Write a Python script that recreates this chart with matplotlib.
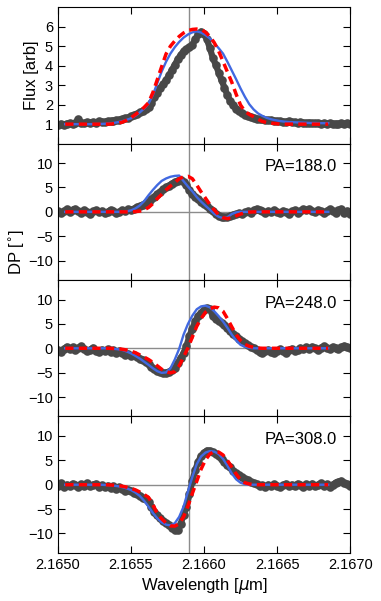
import numpy as np
import matplotlib.pyplot as plt
from matplotlib.ticker import FormatStrFormatter

plt.rcParams['font.family'] = ['Liberation Sans', 'DejaVu Sans']

# observed data grid (um) and model grid (um)
wl_obs = np.linspace(2.1650, 2.1670, 101)
wl_mod = np.linspace(2.16505, 2.16685, 61)
wl_line = 2.1659

flux_obs = [0.98, 1.02, 0.97, 1.03, 1.05, 1.00, 1.08, 1.25, 1.06, 1.04,
            1.09, 1.06, 1.11, 1.08, 1.15, 1.12, 1.10, 1.16, 1.14, 1.18,
            1.20, 1.22, 1.26, 1.30, 1.34, 1.40, 1.46, 1.52, 1.60, 1.68,
            1.76, 1.90, 2.08, 2.40, 2.60, 2.85, 3.05, 3.25, 3.50, 3.78,
            4.05, 4.32, 4.55, 4.75, 4.86, 4.95, 5.08, 5.35, 5.60, 5.75,
            5.65, 5.35, 4.90, 4.40, 4.05, 3.65, 3.25, 2.88, 2.48, 2.18,
            1.96, 1.80, 1.66, 1.55, 1.46, 1.40, 1.35, 1.31, 1.28, 1.25,
            1.24, 1.22, 1.20, 1.19, 1.17, 1.16, 1.15, 1.13, 1.12, 1.14,
            1.11, 1.10, 1.08, 1.09, 1.07, 1.06, 1.08, 1.05, 1.04, 1.06,
            1.03, 1.05, 1.02, 1.04, 1.01, 1.03, 1.00, 1.04, 1.02, 1.05,
            1.03]
flux_blue = [1.00, 1.00, 1.00, 1.00, 1.00, 1.00, 1.00, 1.01, 1.01, 1.02,
             1.04, 1.06, 1.10, 1.15, 1.22, 1.30, 1.43, 1.60, 1.80, 2.05,
             2.50, 3.10, 3.70, 4.20, 4.62, 4.95, 5.22, 5.44, 5.60, 5.71,
             5.76, 5.70, 5.57, 5.40, 5.16, 4.90, 4.62, 4.20, 3.75, 3.30,
             2.83, 2.40, 2.02, 1.75, 1.55, 1.42, 1.32, 1.25, 1.20, 1.16,
             1.13, 1.11, 1.10, 1.09, 1.08, 1.07, 1.06, 1.06, 1.05, 1.05,
             1.05]
flux_red = [1.00, 1.00, 1.00, 1.00, 1.00, 1.00, 1.00, 1.00, 1.00, 1.00,
            1.00, 1.02, 1.05, 1.10, 1.20, 1.33, 1.49, 1.67, 1.86, 2.10,
            2.62, 3.28, 3.95, 4.60, 5.00, 5.27, 5.50, 5.68, 5.80, 5.86,
            5.88, 5.86, 5.72, 5.50, 5.18, 4.75, 4.22, 3.68, 3.15, 2.53,
            1.98, 1.66, 1.50, 1.38, 1.25, 1.14, 1.08, 1.05, 1.03, 1.00,
            1.00, 1.00, 1.00, 1.00, 1.00, 1.00, 1.00, 1.00, 1.00, 1.00,
            1.00]

pa_labels = ['PA=188.0', 'PA=248.0', 'PA=308.0']

dp188_obs = [0.2, -0.3, 0.1, 0.5, 0.0, 0.4, 0.6, 0.2, -0.2, 0.3,
             0.0, -0.4, 0.1, 0.3, -0.1, 0.2, -0.3, 0.0, 0.4, 0.1,
             -0.2, 0.0, 0.3, 0.2, 0.5, 0.4, 0.6, 1.0, 1.1, 1.5,
             1.8, 2.1, 2.6, 3.1, 3.6, 4.1, 4.6, 5.0, 5.4, 5.8,
             6.1, 6.4, 6.6, 6.2, 5.5, 4.4, 3.7, 3.1, 2.6, 2.1,
             1.6, 1.1, 0.6, 0.1, -0.4, -0.8, -1.0, -1.1, -1.0, -0.8,
             -0.6, -0.5, -0.3, -0.4, -0.1, 0.1, -0.2, 0.3, 0.6, 0.4,
             0.1, -0.3, 0.2, -0.1, 0.3, 0.0, -0.3, 0.2, 0.0, -0.4,
             0.1, 0.3, -0.2, 0.2, 0.5, 0.3, 0.6, 0.2, -0.1, 0.4,
             0.1, -0.3, 0.2, 0.5, 0.1, -0.2, 0.3, 0.6, -0.3, 0.2,
             -0.4]
dp188_blue = [0.0, 0.0, 0.0, 0.0, 0.0, 0.0, 0.0, 0.0, 0.0, 0.0,
              0.0, 0.0, 0.0, 0.0, 0.1, 0.3, 0.7, 1.3, 2.2, 3.4,
              4.5, 5.5, 6.35, 6.85, 7.2, 7.38, 7.45, 6.3, 5.2, 4.2,
              3.05, 2.1, 1.25, 0.45, -0.4, -1.0, -1.3, -1.1, -0.45, -0.1,
              0.0, 0.0, 0.0, 0.0, 0.0, 0.0, 0.0, 0.0, 0.0, 0.0,
              0.0, 0.0, 0.0, 0.0, 0.0, 0.0, 0.0, 0.0, 0.0, 0.0,
              0.0]
dp188_red = [0.0, 0.0, 0.0, 0.0, 0.0, 0.0, 0.0, 0.0, 0.0, 0.0,
             0.0, 0.0, 0.0, 0.0, 0.0, 0.0, 0.05, 0.15, 0.4, 0.9,
             1.7, 2.7, 3.6, 4.5, 5.3, 6.0, 6.8, 7.2, 7.3, 6.8,
             5.5, 4.1, 2.8, 1.5, 0.4, -0.6, -1.2, -1.4, -1.2, -0.8,
             -0.45, -0.2, -0.05, 0.0, 0.0, 0.0, 0.0, 0.0, 0.0, 0.0,
             0.0, 0.0, 0.0, 0.0, 0.0, 0.0, 0.0, 0.0, 0.0, 0.0,
             0.0]

dp248_obs = [-0.3, -0.8, -0.2, 0.3, -0.1, 0.2, -0.4, 0.1, 0.4, -0.2,
             -0.6, -0.3, 0.1, -0.5, -0.8, -0.3, -0.6, -0.2, -0.7, -0.4,
             -0.9, -0.6, -1.0, -1.3, -1.1, -1.5, -1.4, -1.8, -2.1, -2.4,
             -2.8, -3.3, -3.8, -4.3, -4.6, -4.9, -5.0, -5.0, -4.8, -4.5,
             -4.0, -3.0, -2.0, -1.0, 0.5, 2.5, 4.0, 5.5, 6.6, 7.3,
             7.9, 8.3, 8.0, 6.6, 6.0, 5.7, 5.2, 4.7, 4.2, 3.6,
             3.0, 2.5, 2.0, 1.5, 1.0, 0.6, 0.3, 0.0, -0.4, -0.7,
             -0.9, -0.6, -0.3, -0.7, -1.0, -0.6, -0.2, -0.5, -0.9, -0.4,
             -0.1, -0.5, -0.3, 0.1, -0.2, 0.2, -0.1, 0.3, 0.0, -0.3,
             0.1, 0.4, 0.0, -0.2, 0.3, 0.1, -0.2, 0.2, 0.5, 0.3,
             0.0]
dp248_blue = [0.0, 0.0, 0.0, 0.0, 0.0, 0.0, 0.0, 0.0, 0.0, 0.0,
              -0.05, -0.1, -0.2, -0.35, -0.65, -1.05, -1.55, -2.1, -2.75, -3.4,
              -4.1, -4.7, -5.05, -4.95, -4.1, -2.3, -0.1, 2.8, 5.0, 6.7,
              8.0, 8.6, 8.75, 8.4, 7.6, 6.6, 5.5, 4.2, 2.8, 1.6,
              0.7, 0.3, 0.1, 0.0, 0.0, 0.0, 0.0, 0.0, 0.0, 0.0,
              0.0, 0.0, 0.0, 0.0, 0.0, 0.0, 0.0, 0.0, 0.0, 0.0,
              0.0]
dp248_red = [0.0, 0.0, 0.0, 0.0, 0.0, 0.0, 0.0, 0.0, 0.0, 0.0,
             0.0, -0.05, -0.1, -0.2, -0.35, -0.6, -0.9, -1.35, -1.8, -2.3,
             -2.9, -3.6, -4.3, -4.8, -5.05, -4.8, -3.6, -1.8, 0.1, 2.3,
             4.5, 6.1, 7.4, 8.1, 8.45, 8.3, 7.6, 6.1, 4.4, 2.8,
             1.6, 0.8, 0.4, 0.2, 0.05, 0.0, 0.0, 0.0, 0.0, 0.0,
             0.0, 0.0, 0.0, 0.0, 0.0, 0.0, 0.0, 0.0, 0.0, 0.0,
             0.0]

dp308_obs = [-0.2, 0.3, -0.5, 0.0, -0.3, 0.2, -0.1, -0.4, 0.1, -0.2,
             0.3, -0.3, 0.0, 0.2, -0.4, -0.1, -0.5, -0.2, -0.6, -0.3,
             -0.8, -0.5, -0.9, -1.2, -1.0, -1.3, -1.6, -1.9, -2.4, -2.7,
             -3.0, -3.6, -4.6, -5.6, -6.3, -6.9, -7.4, -7.8, -8.2, -8.8,
             -9.2, -9.3, -8.0, -6.2, -4.6, -2.0, 0.8, 3.0, 4.7, 5.9,
             6.6, 7.0, 7.0, 6.7, 6.3, 5.8, 5.3, 4.7, 4.1, 3.6,
             2.9, 2.4, 1.9, 1.5, 1.2, 0.9, 0.6, 0.3, 0.1, -0.2,
             -0.1, -0.4, 0.0, -0.3, 0.1, -0.2, -0.5, -0.1, 0.2, -0.3,
             0.0, -0.2, 0.2, -0.1, -0.4, 0.1, -0.2, 0.2, -0.3, 0.0,
             0.3, -0.2, 0.1, -0.4, 0.0, 0.4, 0.6, 0.8, 0.3, 0.1,
             -0.3]
dp308_blue = [0.0, 0.0, 0.0, 0.0, 0.0, 0.0, 0.0, 0.0, 0.0, -0.05,
              -0.1, -0.2, -0.3, -0.5, -0.75, -1.1, -1.6, -2.3, -3.3, -4.5,
              -5.8, -6.9, -7.7, -8.2, -8.35, -7.9, -6.6, -4.5, -1.4, 1.6,
              4.2, 5.8, 6.6, 6.9, 6.8, 6.3, 5.3, 3.9, 2.3, 1.1,
              0.4, 0.1, 0.0, 0.0, 0.0, 0.0, 0.0, 0.0, 0.0, 0.0,
              0.0, 0.0, 0.0, 0.0, 0.0, 0.0, 0.0, 0.0, 0.0, 0.0,
              0.0]
dp308_red = [0.0, 0.0, 0.0, 0.0, 0.0, 0.0, 0.0, 0.0, 0.0, 0.0,
             -0.05, -0.1, -0.2, -0.3, -0.5, -0.75, -1.05, -1.5, -2.0, -2.6,
             -4.1, -5.9, -7.0, -7.85, -8.45, -8.5, -8.0, -6.6, -4.4, -1.8,
             0.7, 3.2, 5.1, 6.3, 6.8, 6.7, 6.1, 5.0, 3.6, 2.2,
             1.0, 0.4, 0.15, 0.05, 0.0, 0.0, 0.0, 0.0, 0.0, 0.0,
             0.0, 0.0, 0.0, 0.0, 0.0, 0.0, 0.0, 0.0, 0.0, 0.0,
             0.0]

dp_obs = [dp188_obs, dp248_obs, dp308_obs]
dp_blue = [dp188_blue, dp248_blue, dp308_blue]
dp_red = [dp188_red, dp248_red, dp308_red]

fig, axes = plt.subplots(4, 1, figsize=(3.81, 6.01), dpi=100, sharex=True)
fig.subplots_adjust(left=0.152, right=0.919, top=0.988, bottom=0.080, hspace=0)

dot_color = '#484848'
blue = '#4169E1'


def draw(ax, obs, mod_b, mod_r):
    ax.axvline(wl_line, color='#8c8c8c', lw=1, zorder=1)
    # thick trace under the dots so steep parts read as a band
    ax.plot(wl_obs, obs, '-', color=dot_color, lw=4.5, solid_capstyle='round', zorder=2)
    ax.plot(wl_obs, obs, 'o', color=dot_color, ms=6.2, mec='none', zorder=2)
    ax.plot(wl_mod, mod_b, '-', color=blue, lw=1.7, zorder=3)
    ax.plot(wl_mod, mod_r, '--', color='red', lw=2.5, dashes=(2.4, 1.5), zorder=4)
    ax.tick_params(direction='in', top=True, right=True, length=5, labelsize=10.5)


draw(axes[0], flux_obs, flux_blue, flux_red)
axes[0].set_ylim(0, 7)
axes[0].set_yticks([1, 2, 3, 4, 5, 6])
axes[0].set_ylabel('Flux [arb]', fontsize=12)

for ax, obs, b, r, lab in zip(axes[1:], dp_obs, dp_blue, dp_red, pa_labels):
    ax.axhline(0, color='#8c8c8c', lw=1, zorder=1)
    draw(ax, obs, b, r)
    ax.set_ylim(-14, 14)
    ax.set_yticks([-10, -5, 0, 5, 10])
    ax.text(0.955, 0.83, lab, transform=ax.transAxes, ha='right', va='center', fontsize=12)

axes[-1].set_xlim(2.1650, 2.1670)
axes[-1].set_xticks([2.1650, 2.1655, 2.1660, 2.1665, 2.1670])
axes[-1].xaxis.set_major_formatter(FormatStrFormatter('%.4f'))
axes[-1].set_xlabel(r'Wavelength [$\mu$m]', fontsize=12, labelpad=3)

fig.text(0.045, 0.58, r'DP [$^{\circ}$]', rotation=90, ha='center', va='center', fontsize=12)

fig.savefig('out.png', dpi=100)
